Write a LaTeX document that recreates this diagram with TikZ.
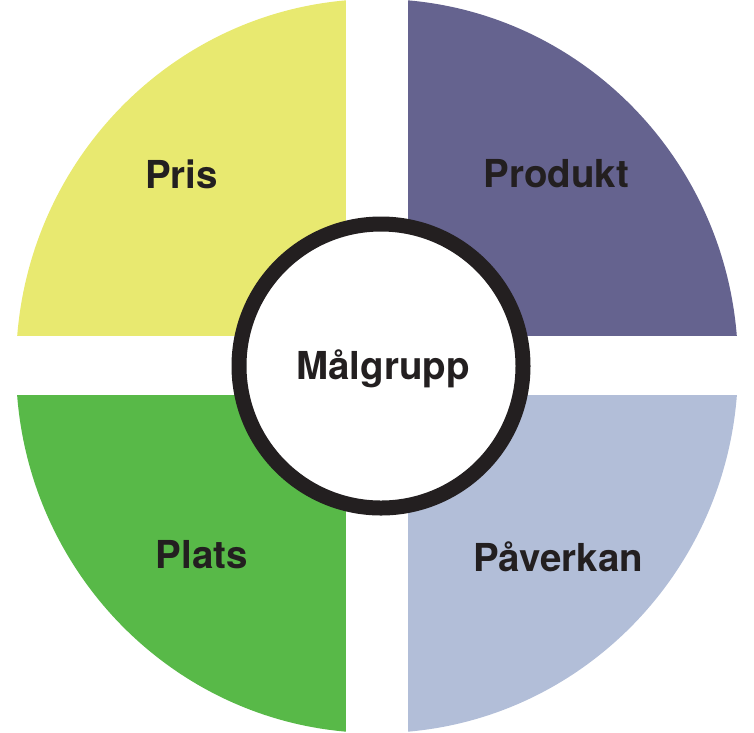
\documentclass[tikz,border=0pt]{standalone}
\usepackage{fontspec}
\setmainfont{TeX Gyre Heros}
\usepackage{xcolor}
\usepackage{tikz}
\usetikzlibrary{positioning}

\definecolor{prisyellow}{RGB}{232,233,112}
\definecolor{produktpurple}{RGB}{101,99,143}
\definecolor{platsgreen}{RGB}{88,185,72}
\definecolor{paverkanblue}{RGB}{178,190,216}
\definecolor{inkdark}{RGB}{35,31,32}

\begin{document}
\begin{tikzpicture}[x=1pt, y=-1pt,
  segtext/.style={anchor=base, inner sep=0pt, text=inkdark, font=\fontsize{38.5}{42}\selectfont\bfseries},
  ringnode/.style={circle, draw=inkdark, line width=15pt, fill=white, minimum size=284pt, inner sep=0pt}]
  \useasboundingbox (0,0) rectangle (754,732);

  % Quadrants cut out of the outer disc
  \begin{scope}
    \clip (377,366) ellipse [x radius=361, y radius=367];
    \fill[prisyellow] (0,0) rectangle (346,336);
    \fill[produktpurple] (408,0) rectangle (754,336);
    \fill[platsgreen] (0,395) rectangle (346,732);
    \fill[paverkanblue] (408,395) rectangle (754,732);
  \end{scope}

  % Centre ring
  \node[ringnode] (ring) at (381,366) {};
  \node[segtext] (malgrupp) at (383,379) {Målgrupp};

  % Quadrant labels
  \node[segtext] (pris) at (181.5,188.3) {Pris};
  \node[segtext] (produkt) at (556.3,187.7) {Produkt};
  \node[segtext] (plats) at (201.7,568.5) {Plats};
  \node[segtext] (paverkan) at (558.3,571) {Påverkan};
\end{tikzpicture}
\end{document}
